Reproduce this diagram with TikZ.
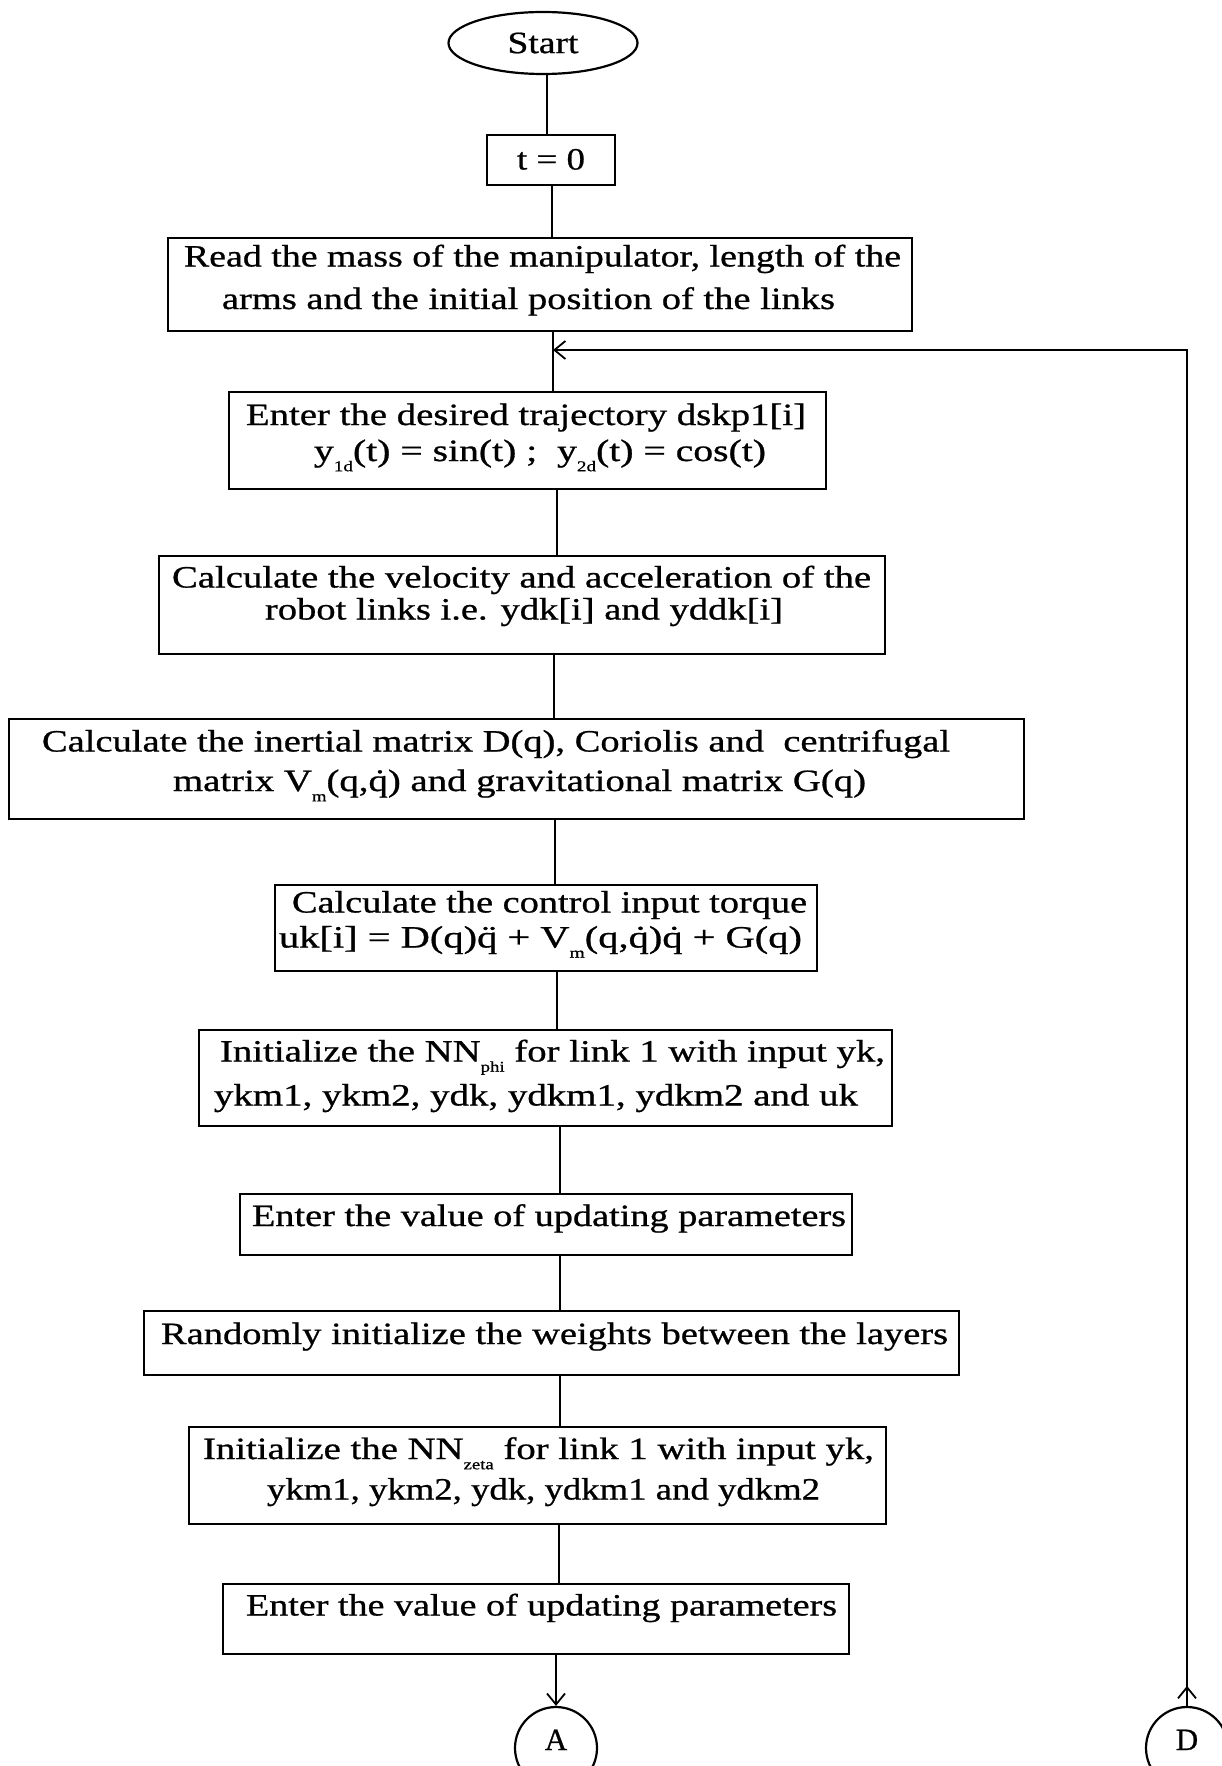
\documentclass[tikz,border=0pt]{standalone}
\usepackage{fontspec}
\setmainfont{Liberation Serif}[RawFeature={embolden=0.7}]
\usepackage{graphicx}
\usetikzlibrary{arrows.meta,shapes.geometric}
% set one line of text to an exact width, keeping its height
\newcommand{\fitline}[2]{\resizebox{#1pt}{\height}{#2}}
% small lowered index, as in NN_phi or V_m
\newcommand{\lowidx}[1]{\raisebox{-0.33em}{\fontsize{15}{15}\selectfont #1}}
\begin{document}
\begin{tikzpicture}[x=1pt,y=-1pt,
  box/.style={draw, line width=2.2pt, inner sep=0pt, rectangle},
  txt/.style={inner sep=0pt, text height=22pt, text depth=1pt, font=\fontsize{31}{37}\selectfont},
  link/.style={line width=1.8pt},
  tip/.style={-{Straight Barb[length=11pt,width=18pt,line width=1.8pt]}},
  term/.style={draw, ellipse, line width=2.2pt, minimum width=189pt, minimum height=62pt, inner sep=0pt, font=\fontsize{31}{37}\selectfont},
  conn/.style={draw, circle, line width=2.2pt, minimum size=82pt, inner sep=0pt, text height=22pt, text depth=18pt, font=\fontsize{31}{37}\selectfont}]
\useasboundingbox (0,0) rectangle (1221,1766);

% terminal and initial step
\node[term] (start) at (543,43) {\fitline{71}{Start}};
\node[box, minimum width=128pt, minimum height=50pt] (t0) at (551,160) {};
\node[txt] (t0txt) at (551,159) {\fitline{68}{t = 0}};

% process boxes
\node[box, minimum width=744pt, minimum height=93pt] (read) at (540,284.5) {};
\node[txt] (read1) at (542.5,256) {\fitline{717}{Read the mass of the manipulator, length of the}};
\node[txt] (read2) at (528.5,298.5) {\fitline{613}{arms and the initial position of the links}};

\node[box, minimum width=597pt, minimum height=97pt] (traj) at (527.5,440.5) {};
\node[txt] (traj1) at (526,414.5) {\fitline{560}{Enter the desired trajectory dskp1[i]}};
\node[txt] (traj2) at (540,450.5) {\fitline{452}{y\lowidx{1d}(t) = sin(t) ;\ \ y\lowidx{2d}(t) = cos(t)}};

\node[box, minimum width=726pt, minimum height=98pt] (vel) at (522,605) {};
\node[txt] (vel1) at (521.5,577) {\fitline{699}{Calculate the velocity and acceleration of the}};
\node[txt] (vel2) at (524,609) {\fitline{518}{robot links i.e. ydk[i] and yddk[i]}};

\node[box, minimum width=1015pt, minimum height=100pt] (inert) at (516.5,769) {};
\node[txt] (inert1) at (496,741) {\fitline{908}{Calculate the inertial matrix D(q), Coriolis and\ \ centrifugal}};
\node[txt] (inert2) at (519.5,780.5) {\fitline{693}{matrix V\lowidx{m}(q,\.q) and gravitational matrix G(q)}};

\node[box, minimum width=542pt, minimum height=86pt] (torque) at (546,928) {};
\node[txt] (torque1) at (549.5,902) {\fitline{515}{Calculate the control input torque}};
\node[txt] (torque2) at (540.5,937) {\fitline{523}{uk[i] = D(q)\"q + V\lowidx{m}(q,\.q)\.q + G(q)}};

\node[box, minimum width=693pt, minimum height=96pt] (nnphi) at (545.5,1078) {};
\node[txt] (nnphi1) at (552.5,1051) {\fitline{665}{Initialize the NN\lowidx{phi} for link 1 with input yk,}};
\node[txt] (nnphi2) at (536,1095) {\fitline{644}{ykm1, ykm2, ydk, ydkm1, ydkm2 and uk}};

\node[box, minimum width=612pt, minimum height=61pt] (upda) at (546,1224.5) {};
\node[txt] (upda1) at (549,1215.5) {\fitline{594}{Enter the value of updating parameters}};

\node[box, minimum width=815pt, minimum height=64pt] (rand) at (551.5,1343) {};
\node[txt] (rand1) at (554.5,1333.5) {\fitline{787}{Randomly initialize the weights between the layers}};

\node[box, minimum width=697pt, minimum height=97pt] (nnzeta) at (537.5,1475.5) {};
\node[txt] (nnzeta1) at (538.5,1448.5) {\fitline{671}{Initialize the NN\lowidx{zeta} for link 1 with input yk,}};
\node[txt] (nnzeta2) at (543.5,1489) {\fitline{553}{ykm1, ykm2, ydk, ydkm1 and ydkm2}};

\node[box, minimum width=626pt, minimum height=70pt] (updb) at (536,1619) {};
\node[txt] (updb1) at (541.5,1605) {\fitline{591}{Enter the value of updating parameters}};

% off-page connectors
\node[conn] (A) at (556,1748) {A};
\node[conn] (D) at (1187,1748) {D};

% vertical positions of the flow line
\coordinate (x1) at (547,0);
\coordinate (x2) at (552,0);
\coordinate (x3) at (553,0);
\coordinate (x4) at (557,0);
\coordinate (x5) at (554,0);
\coordinate (x6) at (555,0);
\coordinate (x7) at (557,0);
\coordinate (x8) at (560,0);
\coordinate (x9) at (559,0);
\coordinate (merge) at (553,350);

\draw[link] (start.south -| x1) -- (t0.north -| x1);
\draw[link] (t0.south -| x2) -- (read.north -| x2);
\draw[link] (read.south -| x3) -- (traj.north -| x3);
\draw[link] (traj.south -| x4) -- (vel.north -| x4);
\draw[link] (vel.south -| x5) -- (inert.north -| x5);
\draw[link] (inert.south -| x6) -- (torque.north -| x6);
\draw[link] (torque.south -| x7) -- (nnphi.north -| x7);
\draw[link] (nnphi.south -| x8) -- (upda.north -| x8);
\draw[link] (upda.south -| x8) -- (rand.north -| x8);
\draw[link] (rand.south -| x8) -- (nnzeta.north -| x8);
\draw[link] (nnzeta.south -| x9) -- (updb.north -| x9);
\draw[link, tip] (updb.south -| A) -- (A.north);

% return path from connector D
\draw[link, tip] (D.north) -- (D.north |- merge) -- (merge);
\draw[link, tip] (D.north) -- ++(0,-20);
\end{tikzpicture}
\end{document}
